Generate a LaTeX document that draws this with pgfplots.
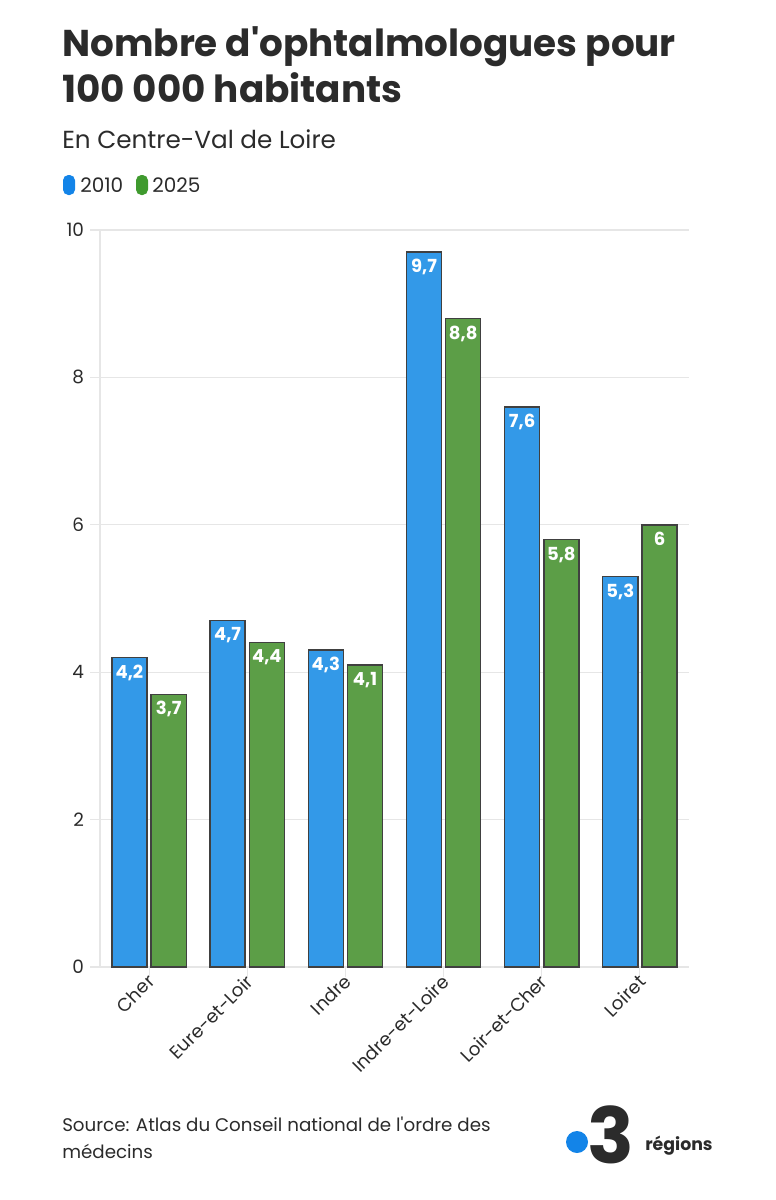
\documentclass[border=0pt]{standalone}
\usepackage{pgfplots}
\pgfplotsset{compat=1.18}
\usepackage{fontspec}
\setmainfont{Poppins}
\definecolor{barblue}{HTML}{3399E8}
\definecolor{bargreen}{HTML}{5C9E47}
\definecolor{legblue}{HTML}{1384E8}
\definecolor{leggreen}{HTML}{3F9A2E}
\definecolor{txt}{HTML}{2B2B2B}
\definecolor{gridc}{HTML}{E6E6E6}
\begin{document}
\begin{tikzpicture}
\path[use as bounding box] (0,0) rectangle (581.25pt,-900pt);
\begin{axis}[
  at={(75pt,-725.25pt)}, anchor=south west,
  scale only axis, width=441.75pt, height=552.75pt,
  xmin=-0.5, xmax=5.5, ymin=0, ymax=10,
  xtick={0,1,2,3,4,5},
  xticklabels={Cher,Eure-et-Loir,Indre,Indre-et-Loire,Loir-et-Cher,Loiret},
  ytick={0,2,4,6,8,10},
  ymajorgrids, grid style={gridc, line width=0.8pt},
  axis x line*=bottom, axis y line*=left,
  axis line style={gridc, line width=0.8pt, -},
  tick style={draw=gridc, line width=0.8pt},
  tick pos=left,
  tick align=outside, major tick length=7.5pt,
  tick label style={font=\fontsize{13.8}{16}\selectfont, text=txt},
  /pgf/number format/assume math mode=true,
  xticklabel style={rotate=45, anchor=north east, xshift=4pt, yshift=7pt},
  yticklabel style={xshift=-1pt},
  ybar, bar width=0.357,
  nodes near coords,
  nodes near coords style={anchor=north, yshift=-1.5pt, text=white, font=\bfseries\fontsize{13.5}{15}\selectfont, /pgf/number format/use comma},
  clip=false,
]
\addplot[fill=barblue, draw=txt!90, line width=1.1pt, bar shift=-0.2] coordinates {(0,4.2) (1,4.7) (2,4.3) (3,9.7) (4,7.6) (5,5.3)};
\addplot[fill=bargreen, draw=txt!90, line width=1.1pt, bar shift=0.2] coordinates {(0,3.7) (1,4.4) (2,4.1) (3,8.8) (4,5.8) (5,6)};
\end{axis}
\begin{scope}[x=0.75pt, y=-0.75pt, text=txt]
\node[anchor=base west, inner sep=0, font=\bfseries\fontsize{28}{36}\selectfont] at (62,56) {Nombre d\textquotesingle ophtalmologues pour};
\node[anchor=base west, inner sep=0, font=\bfseries\fontsize{28}{36}\selectfont] at (62,102) {100 000 habitants};
\node[anchor=base west, inner sep=0, font=\fontsize{18.5}{22}\selectfont] at (62,148) {En Centre-Val de Loire};
\fill[legblue, rounded corners=4pt] (63,175) rectangle (75,195);
\node[anchor=base west, inner sep=0, font=\fontsize{15}{17}\selectfont] at (80,192) {2010};
\fill[leggreen, rounded corners=4pt] (136,175) rectangle (148,195);
\node[anchor=base west, inner sep=0, font=\fontsize{15}{17}\selectfont] at (152,192) {2025};
\node[anchor=base west, inner sep=0, font=\fontsize{13.7}{16}\selectfont] at (62,1131) {Source: Atlas du Conseil national de l\textquotesingle ordre des};
\node[anchor=base west, inner sep=0, font=\fontsize{13.7}{16}\selectfont] at (62,1158) {médecins};
\fill[legblue] (577,1142) circle (11);
\node[anchor=base west, inner sep=0, font=\bfseries\fontsize{58}{60}\selectfont, text=txt] at (587,1163) {3};
\node[anchor=base west, inner sep=0, font=\bfseries\fontsize{13}{15}\selectfont, text=txt] at (645,1150) {régions};
\end{scope}
\end{tikzpicture}
\end{document}
